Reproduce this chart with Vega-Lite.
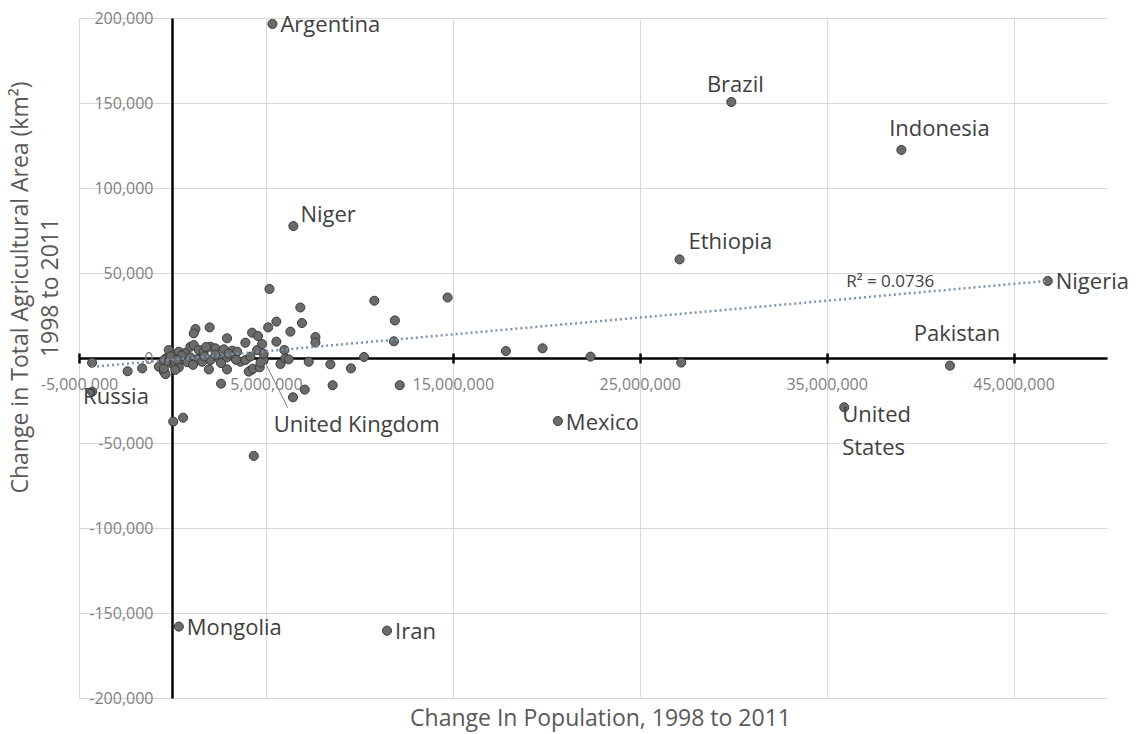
{
  "$schema": "https://vega.github.io/schema/vega-lite/v6.json",
  "width": 1028,
  "height": 680,
  "autosize": {"type": "none"},
  "padding": {"left": 79, "top": 18, "right": 32, "bottom": 36},
  "background": "white",
  "config": {"view": {"stroke": null}, "font": "Open Sans"},
  "datasets": {
    "countries": [
      {"name": "Argentina", "pop": 5350000, "area": 196500},
      {"name": "Niger", "pop": 6470000, "area": 77600},
      {"name": "Brazil", "pop": 29900000, "area": 150600},
      {"name": "Indonesia", "pop": 39000000, "area": 122400},
      {"name": "Ethiopia", "pop": 27130000, "area": 58000},
      {"name": "Nigeria", "pop": 46830000, "area": 45300},
      {"name": "Pakistan", "pop": 41600000, "area": -4500},
      {"name": "United States", "pop": 35940000, "area": -29000},
      {"name": "Mexico", "pop": 20620000, "area": -37100},
      {"name": "Russia", "pop": -4300000, "area": -19800},
      {"name": "Mongolia", "pop": 340000, "area": -158000},
      {"name": "Iran", "pop": 11480000, "area": -160400},
      {"name": "United Kingdom", "pop": 4880000, "area": -1000},
      {"pop": -4300000, "area": -2800},
      {"pop": -2400000, "area": -7800},
      {"pop": -1620000, "area": -6100},
      {"pop": -730000, "area": -5100},
      {"pop": -460000, "area": -8000},
      {"pop": -370000, "area": -9500},
      {"pop": -460000, "area": -6100},
      {"pop": -340000, "area": -200},
      {"pop": -200000, "area": 4700},
      {"pop": -460000, "area": -1200},
      {"pop": -200000, "area": -2200},
      {"pop": 70000, "area": 1800},
      {"pop": 70000, "area": -4100},
      {"pop": 160000, "area": -3000},
      {"pop": 340000, "area": -5500},
      {"pop": 340000, "area": 3700},
      {"pop": 570000, "area": -800},
      {"pop": 700000, "area": 3100},
      {"pop": 960000, "area": 6600},
      {"pop": 960000, "area": 400},
      {"pop": 1140000, "area": 7600},
      {"pop": 1410000, "area": 4700},
      {"pop": 1320000, "area": -800},
      {"pop": 1590000, "area": -2200},
      {"pop": 1670000, "area": 3700},
      {"pop": 1950000, "area": -6700},
      {"pop": 1990000, "area": 18000},
      {"pop": 1230000, "area": 17000},
      {"pop": 1140000, "area": 14500},
      {"pop": 2030000, "area": 6600},
      {"pop": 2030000, "area": -1200},
      {"pop": 2300000, "area": 5700},
      {"pop": 2480000, "area": -200},
      {"pop": 2600000, "area": -15100},
      {"pop": 2750000, "area": 5100},
      {"pop": 2920000, "area": 11600},
      {"pop": 2920000, "area": 400},
      {"pop": 2920000, "area": -6700},
      {"pop": 3190000, "area": 4300},
      {"pop": 3280000, "area": 800},
      {"pop": 3460000, "area": 3700},
      {"pop": 3640000, "area": -2200},
      {"pop": 3900000, "area": 9000},
      {"pop": 3900000, "area": -1200},
      {"pop": 4170000, "area": 800},
      {"pop": 4260000, "area": 14900},
      {"pop": 4580000, "area": 12900},
      {"pop": 4210000, "area": -7100},
      {"pop": 4080000, "area": -8000},
      {"pop": 4310000, "area": -6300},
      {"pop": 4350000, "area": -57600},
      {"pop": 4530000, "area": 4700},
      {"pop": 4670000, "area": -5500},
      {"pop": 4710000, "area": -2700},
      {"pop": 4800000, "area": 8200},
      {"pop": 4880000, "area": 2400},
      {"pop": 5120000, "area": 18000},
      {"pop": 5190000, "area": 40600},
      {"pop": 5560000, "area": 21400},
      {"pop": 5560000, "area": 9600},
      {"pop": 5780000, "area": -3500},
      {"pop": 5990000, "area": 4700},
      {"pop": 6040000, "area": -200},
      {"pop": 6220000, "area": -800},
      {"pop": 6310000, "area": 15500},
      {"pop": 6450000, "area": -23100},
      {"pop": 6840000, "area": 29700},
      {"pop": 6930000, "area": 20600},
      {"pop": 7080000, "area": -18600},
      {"pop": 7290000, "area": -2200},
      {"pop": 7650000, "area": 12300},
      {"pop": 7650000, "area": 9100},
      {"pop": 8450000, "area": -3700},
      {"pop": 8570000, "area": -16000},
      {"pop": 9550000, "area": -6100},
      {"pop": 10250000, "area": 600},
      {"pop": 10800000, "area": 33700},
      {"pop": 11900000, "area": 22100},
      {"pop": 11850000, "area": 9800},
      {"pop": 12160000, "area": -16000},
      {"pop": 14720000, "area": 35600},
      {"pop": 17840000, "area": 4100},
      {"pop": 19800000, "area": 5700},
      {"pop": 22370000, "area": 800},
      {"pop": 27220000, "area": -2700},
      {"pop": 40000, "area": -37400},
      {"pop": 570000, "area": -35100},
      {"pop": 500000, "area": 1500},
      {"pop": 800000, "area": -2500},
      {"pop": 1700000, "area": 1000},
      {"pop": 2300000, "area": 2000},
      {"pop": 2600000, "area": -3000},
      {"pop": 3000000, "area": 2500},
      {"pop": 3400000, "area": -1000},
      {"pop": 1100000, "area": -4000},
      {"pop": 150000, "area": -7000},
      {"pop": -100000, "area": 1000},
      {"pop": 250000, "area": -1000},
      {"pop": 1800000, "area": 6500}
    ],
    "trend": [
      {"pop": -4300000, "area": -5200},
      {"pop": 46830000, "area": 45400}
    ],
    "notes": [
      {"pop": 38400000, "area": 44700, "text": "R² = 0.0736"}
    ]
  },
  "layer": [
    {
      "data": {"name": "countries"},
      "mark": {"type": "point", "shape": "circle", "filled": true, "size": 82, "fill": "#6b6b6b", "stroke": "#3a3a3a", "strokeWidth": 1, "opacity": 1},
      "encoding": {
        "x": {
          "field": "pop", "type": "quantitative",
          "scale": {"domain": [-5000000, 50000000], "nice": false, "zero": false},
          "axis": {
            "orient": "bottom",
            "values": [-5000000, 5000000, 15000000, 25000000, 35000000, 45000000],
            "grid": true, "gridColor": "#d9d9d9", "gridWidth": 1,
            "labels": false, "ticks": false, "domain": false,
            "title": "Change In Population, 1998 to 2011",
            "titleFont": "Open Sans", "titleFontSize": 23, "titleFontWeight": "normal", "titleColor": "#595959",
            "titleX": 521, "titleY": 20, "titleBaseline": "middle", "titleAlign": "center"
          }
        },
        "y": {
          "field": "area", "type": "quantitative",
          "scale": {"domain": [-200000, 200000], "nice": false, "zero": false},
          "axis": {
            "orient": "left",
            "values": [-200000, -150000, -100000, -50000, 0, 50000, 100000, 150000, 200000],
            "grid": true, "gridColor": "#d9d9d9", "gridWidth": 1,
            "labels": false, "ticks": false, "domain": false,
            "title": ["Change in Total Agricultural Area (km²)", "1998 to 2011"],
            "titleFont": "Open Sans", "titleFontSize": 23, "titleFontWeight": "normal", "titleColor": "#595959",
            "titleX": -59, "titleY": 269, "titleBaseline": "middle", "titleAlign": "center", "titleAngle": 270, "titleLineHeight": 30
          }
        }
      }
    },
    {
      "data": {"name": "trend"},
      "mark": {"type": "line", "color": "#8093ad", "strokeWidth": 2.5, "strokeDash": [2, 3], "strokeCap": "butt"},
      "encoding": {
        "x": {
          "field": "pop", "type": "quantitative",
          "axis": {
            "orient": "bottom", "offset": -340,
            "values": [-5000000, 5000000, 15000000, 25000000, 35000000, 45000000],
            "grid": false, "domain": true, "domainColor": "#000000", "domainWidth": 2.5,
            "ticks": true, "tickColor": "#000000", "tickWidth": 2.5, "tickSize": 5,
            "labels": true, "labelPadding": 13, "labelFont": "Open Sans", "labelFontSize": 16, "labelColor": "#7f7f7f",
            "labelFlush": false, "labelOverlap": false,
            "labelExpr": "replace(format(datum.value, ','), '−', '-')",
            "title": null
          }
        },
        "y": {
          "field": "area", "type": "quantitative",
          "axis": {
            "orient": "left", "offset": -93,
            "values": [-200000, -150000, -100000, -50000, 0, 50000, 100000, 150000, 200000],
            "grid": false, "domain": true, "domainColor": "#000000", "domainWidth": 2.5,
            "ticks": false, "tickSize": 0,
            "labels": true, "labelPadding": 19, "labelFont": "Open Sans", "labelFontSize": 16, "labelColor": "#7f7f7f",
            "labelFlush": false, "labelOverlap": false,
            "labelExpr": "replace(format(datum.value, ','), '−', '-')",
            "title": null
          }
        }
      }
    },
    {
      "data": {"name": "countries"},
      "transform": [{"filter": "datum.name == 'United Kingdom'"}],
      "mark": {"type": "rule", "color": "#7f7f7f", "strokeWidth": 1, "x2Offset": 24, "y2Offset": 48},
      "encoding": {
        "x": {
          "field": "pop", "type": "quantitative",
          "axis": {
            "orient": "bottom", "offset": -340,
            "values": [-5000000, 5000000, 15000000, 25000000, 35000000, 45000000],
            "grid": false, "domain": false, "labels": false,
            "ticks": true, "tickColor": "#000000", "tickWidth": 2.5, "tickSize": -5,
            "title": null
          }
        },
        "y": {"field": "area", "type": "quantitative", "axis": null},
        "x2": {"field": "pop"},
        "y2": {"field": "area"}
      }
    },
    {
      "data": {"name": "notes"},
      "mark": {"type": "text", "font": "Open Sans", "fontSize": 17, "color": "#404040", "align": "center", "baseline": "middle"},
      "encoding": {
        "x": {"field": "pop", "type": "quantitative", "axis": null},
        "y": {"field": "area", "type": "quantitative", "axis": null},
        "text": {"field": "text"}
      }
    },
    {
      "data": {"name": "countries"},
      "transform": [{"filter": {"field": "name", "oneOf": ["Argentina", "Mongolia", "Iran", "Mexico", "Nigeria"]}}],
      "mark": {"type": "text", "font": "Open Sans", "fontSize": 22, "color": "#404040", "align": "left", "baseline": "middle", "dx": 8, "dy": 1.5},
      "encoding": {
        "x": {"field": "pop", "type": "quantitative", "axis": null},
        "y": {"field": "area", "type": "quantitative", "axis": null},
        "text": {"field": "name"}
      }
    },
    {
      "data": {"name": "countries"},
      "transform": [{"filter": "datum.name == 'Niger'"}],
      "mark": {"type": "text", "font": "Open Sans", "fontSize": 22, "color": "#404040", "align": "left", "baseline": "middle", "dx": 7, "dy": -11},
      "encoding": {
        "x": {"field": "pop", "type": "quantitative", "axis": null},
        "y": {"field": "area", "type": "quantitative", "axis": null},
        "text": {"field": "name"}
      }
    },
    {
      "data": {"name": "countries"},
      "transform": [{"filter": "datum.name == 'Ethiopia'"}],
      "mark": {"type": "text", "font": "Open Sans", "fontSize": 22, "color": "#404040", "align": "left", "baseline": "middle", "dx": 9, "dy": -17},
      "encoding": {
        "x": {"field": "pop", "type": "quantitative", "axis": null},
        "y": {"field": "area", "type": "quantitative", "axis": null},
        "text": {"field": "name"}
      }
    },
    {
      "data": {"name": "countries"},
      "transform": [{"filter": "datum.name == 'Brazil'"}],
      "mark": {"type": "text", "font": "Open Sans", "fontSize": 22, "color": "#404040", "align": "center", "baseline": "middle", "dx": 4, "dy": -17},
      "encoding": {
        "x": {"field": "pop", "type": "quantitative", "axis": null},
        "y": {"field": "area", "type": "quantitative", "axis": null},
        "text": {"field": "name"}
      }
    },
    {
      "data": {"name": "countries"},
      "transform": [{"filter": "datum.name == 'Indonesia'"}],
      "mark": {"type": "text", "font": "Open Sans", "fontSize": 22, "color": "#404040", "align": "center", "baseline": "middle", "dx": 38, "dy": -21},
      "encoding": {
        "x": {"field": "pop", "type": "quantitative", "axis": null},
        "y": {"field": "area", "type": "quantitative", "axis": null},
        "text": {"field": "name"}
      }
    },
    {
      "data": {"name": "countries"},
      "transform": [{"filter": "datum.name == 'Pakistan'"}],
      "mark": {"type": "text", "font": "Open Sans", "fontSize": 22, "color": "#404040", "align": "center", "baseline": "middle", "dx": 7, "dy": -32},
      "encoding": {
        "x": {"field": "pop", "type": "quantitative", "axis": null},
        "y": {"field": "area", "type": "quantitative", "axis": null},
        "text": {"field": "name"}
      }
    },
    {
      "data": {"name": "countries"},
      "transform": [{"filter": "datum.name == 'Russia'"}],
      "mark": {"type": "text", "font": "Open Sans", "fontSize": 22, "color": "#404040", "align": "left", "baseline": "middle", "dx": -9, "dy": 5.5},
      "encoding": {
        "x": {"field": "pop", "type": "quantitative", "axis": null},
        "y": {"field": "area", "type": "quantitative", "axis": null},
        "text": {"field": "name"}
      }
    },
    {
      "data": {"name": "countries"},
      "transform": [{"filter": "datum.name == 'United States'"}],
      "mark": {"type": "text", "font": "Open Sans", "fontSize": 22, "color": "#404040", "align": "left", "baseline": "top", "dx": -2, "dy": -2, "lineBreak": " ", "lineHeight": 33},
      "encoding": {
        "x": {"field": "pop", "type": "quantitative", "axis": null},
        "y": {"field": "area", "type": "quantitative", "axis": null},
        "text": {"field": "name"}
      }
    },
    {
      "data": {"name": "countries"},
      "transform": [{"filter": "datum.name == 'United Kingdom'"}],
      "mark": {"type": "text", "font": "Open Sans", "fontSize": 22, "color": "#404040", "align": "left", "baseline": "middle", "dx": 10, "dy": 65},
      "encoding": {
        "x": {"field": "pop", "type": "quantitative", "axis": null},
        "y": {"field": "area", "type": "quantitative", "axis": null},
        "text": {"field": "name"}
      }
    }
  ],
  "resolve": {"axis": {"x": "independent", "y": "independent"}}
}
